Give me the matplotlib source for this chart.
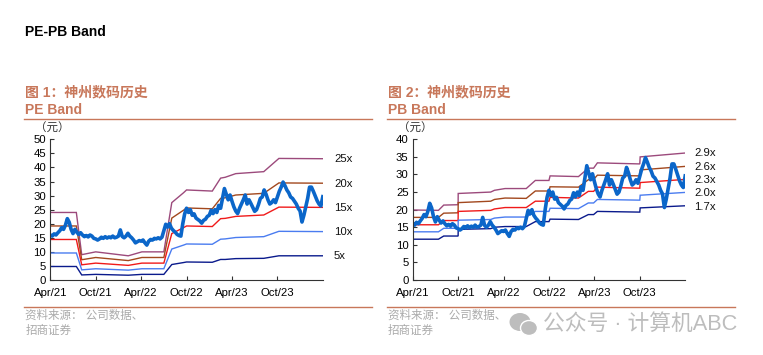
import matplotlib
matplotlib.use('Agg')
import matplotlib.pyplot as plt
import numpy as np
from matplotlib.patches import Ellipse

plt.rcParams['font.family'] = ['Liberation Sans', 'Noto Sans CJK SC', 'DejaVu Sans']

# months counted from Apr/21
tick_pos = [0, 6, 12, 18, 24, 30]
tick_labels = ['Apr/21', 'Oct/21', 'Apr/22', 'Oct/22', 'Apr/23', 'Oct/23']

# share price every quarter month, same for both panels
price = [16, 15.6, 16.4, 16, 16.8, 17.5, 18.6, 18, 19.5, 21.8, 20.5, 18,
         16.5, 18, 17, 16.2, 16.8, 16, 15.4, 15.8, 15.3, 16, 15.6, 14.8,
         14.6, 14.2, 14.6, 15.2, 14.8, 15.4, 14.9, 15.3, 15, 15.6, 15, 15.2,
         15.6, 17.8, 15.5, 15, 15.6, 16.6, 15.6, 15, 14.2, 13.2, 13.6, 14,
         13.8, 14.2, 13.2, 12.4, 13.8, 14.4, 14.2, 14.8, 14.6, 15, 14.6, 15.2,
         17.5, 19.8, 18.8, 20, 18.4, 17.6, 17, 16.2, 15.8, 15.6, 20, 23.5,
         25.5, 24, 25, 23, 23.5, 22, 21.5, 21, 20.2, 21.2, 21.6, 22.6,
         23, 24.8, 23.6, 25, 24, 26.5, 25.5, 29, 32.5, 30.5, 28.5, 30.2,
         28, 26, 24.5, 23.6, 25.5, 27, 28.5, 30.2, 27, 28.5, 27.2, 25.8,
         24.4, 25, 26.8, 29, 29.5, 32, 30.5, 28.5, 27, 27.5, 28.5, 27.5,
         29.5, 31.5, 33, 34.8, 33.5, 32, 31, 29.5, 29, 28, 27, 25.5,
         24.5, 20.6, 23, 26, 29, 33, 33, 31.5, 29.8, 28.2, 27, 26.3, 29.6]
price_x = np.arange(len(price))*0.25

# PE bands
pe_x = [0, 3.44, 4.15, 6, 10.3, 12.1, 15, 16.05, 17.6, 18, 21.4, 22.5, 23.1, 24.5, 28.2, 30.2, 36]
pe_25 = [24, 24, 9, 10, 8.6, 10, 10, 27.5, 31, 32, 31.6, 36.2, 36.5, 37.8, 38.5, 43.2, 43.1]
pe_20 = [19.2, 19.2, 7.2, 8, 6.9, 8, 8, 22, 24.8, 25.6, 25.3, 29, 29.2, 30.2, 30.8, 34.5, 34.4]
pe_15 = [14.4, 14.4, 5.4, 6, 5.2, 6, 6, 16.5, 18.6, 19.2, 19, 21.8, 21.9, 22.6, 23.1, 25.9, 25.8]
pe_10 = [9.6, 9.6, 3.6, 4, 3.5, 4, 4, 11, 12.4, 12.8, 12.7, 14.5, 14.6, 15.1, 15.4, 17.3, 17.2]
pe_5 = [4.8, 4.8, 1.8, 2, 1.7, 2, 2, 5.5, 6.2, 6.4, 6.3, 7.3, 7.3, 7.6, 7.7, 8.6, 8.6]
pe_names = ['25x', '20x', '15x', '10x', '5x']

# PB bands
pb_x = [0, 3.4, 4.1, 6, 6.01, 10.3, 10.8, 12.2, 15, 16.2, 18, 18.15, 21.9, 23.2, 23.9, 24.4, 30, 30.05, 36]
pb_29 = [19.9, 19.8, 21.3, 21.4, 24.6, 25, 25.5, 26, 26, 28.3, 28.3, 29.6, 29.4, 31.8, 31.8, 33.3, 33, 35, 36.1]
pb_26 = [17.8, 17.8, 19, 19.1, 22, 22.4, 22.9, 23.3, 23.2, 25.3, 25.3, 26.5, 26.4, 28.5, 28.6, 29.8, 29.6, 31.3, 32.3]
pb_23 = [15.7, 15.7, 16.9, 16.9, 19.5, 19.8, 20.2, 20.6, 20.6, 22.4, 22.4, 23.5, 23.3, 25.2, 25.2, 26.4, 26.1, 27.7, 28.6]
pb_20 = [13.7, 13.7, 14.7, 14.7, 17, 17.2, 17.6, 17.9, 17.9, 19.5, 19.5, 20.4, 20.3, 21.9, 21.9, 22.9, 22.7, 24.1, 24.9]
pb_17 = [11.6, 11.6, 12.5, 12.5, 14.4, 14.6, 15, 15.2, 15.2, 16.6, 16.6, 17.3, 17.2, 18.6, 18.6, 19.5, 19.3, 20.5, 21.1]
pb_names = ['2.9x', '2.6x', '2.3x', '2.0x', '1.7x']

band_colors = ['#9C4A7C', '#A2481E', '#F01A1A', '#4A7CF0', '#0A1A8C']
price_color = '#0B66C9'
accent = '#C8775A'
W, H = 763, 355


def px_axes(fig, x0, x1, ytop, ybot):
    return fig.add_axes([x0/W, 1-ybot/H, (x1-x0)/W, (ybot-ytop)/H])


def panel(fig, x0, ymax, ystep, band_x, bands, names, label_x, label_y, num, sub):
    ax = px_axes(fig, x0, x0+272.5, 139.3, 280)
    for b, c in zip(bands, band_colors):
        ax.plot(band_x, b, color=c, lw=1.0, solid_joinstyle='miter')
    ax.plot(price_x, price, color=price_color, lw=2.6, solid_joinstyle='round')
    ax.set_xlim(0, 36)
    ax.set_ylim(0, ymax)
    ax.set_yticks(range(0, ymax+1, ystep))
    ax.set_xticks(tick_pos)
    ax.set_xticklabels(tick_labels)
    ax.tick_params(axis='both', labelsize=8.2, length=3, width=0.8, color='#333333')
    ax.tick_params(axis='x', direction='in', pad=6)
    ax.tick_params(axis='y', direction='in', pad=3)
    ax.spines['top'].set_visible(False)
    ax.spines['right'].set_visible(False)
    ax.spines['left'].set_color('#333333')
    ax.spines['bottom'].set_color('#333333')
    ax.patch.set_alpha(0)
    for n, v in zip(names, label_y):
        fig.text(label_x/W, 1-v/H, n, fontsize=8.2, ha='left', va='center', color='#111111')
    fig.text((x0-15)/W, 1-129/H, '（元）', fontsize=8.3, ha='left', va='center', color='#333333')
    fig.text((x0-25)/W, 1-92.5/H, '图 ' + num + '：神州数码历史', fontsize=10, fontweight='bold',
             color=accent, ha='left', va='center')
    fig.text((x0-25)/W, 1-110.5/H, sub, fontsize=10, fontweight='bold', color=accent, ha='left', va='center')
    fig.add_artist(plt.Line2D([(x0-26)/W, (x0+322)/W], [1-118.5/H]*2, color=accent, lw=1))
    fig.add_artist(plt.Line2D([(x0-26)/W, (x0+322)/W], [1-307/H]*2, color=accent, lw=1))
    fig.text((x0-25)/W, 1-316/H, '资料来源： 公司数据、', fontsize=8.3, color='#AAAAAA', ha='left', va='center')
    fig.text((x0-25)/W, 1-331/H, '招商证券', fontsize=8.3, color='#AAAAAA', ha='left', va='center')


fig = plt.figure(figsize=(W/100, H/100), dpi=100)
fig.text(25/W, 1-31.5/H, 'PE-PB Band', fontsize=10, fontweight='bold', ha='left', va='center', color='black')

panel(fig, 50.3, 50, 5, pe_x, [pe_25, pe_20, pe_15, pe_10, pe_5], pe_names, 334,
      [159, 184, 208, 232, 256], '1', 'PE Band')
panel(fig, 412.7, 40, 5, pb_x, [pb_29, pb_26, pb_23, pb_20, pb_17], pb_names, 694,
      [153, 167, 180, 193, 207], '2', 'PB Band')

# watermark
bg = fig.add_axes([0, 0, 1, 1])
bg.set_xlim(0, W)
bg.set_ylim(H, 0)
bg.axis('off')
bg.add_patch(Ellipse((520, 322), 21, 18, fc='#BDBDBD', ec='none'))
bg.add_patch(Ellipse((529, 328), 17, 15, fc='#BDBDBD', ec='white', lw=1))
bg.text(543, 324, '公众号 · 计算机ABC', fontsize=15.7, color='#BDBDBD', ha='left', va='center')

fig.savefig('out.png', dpi=100)
